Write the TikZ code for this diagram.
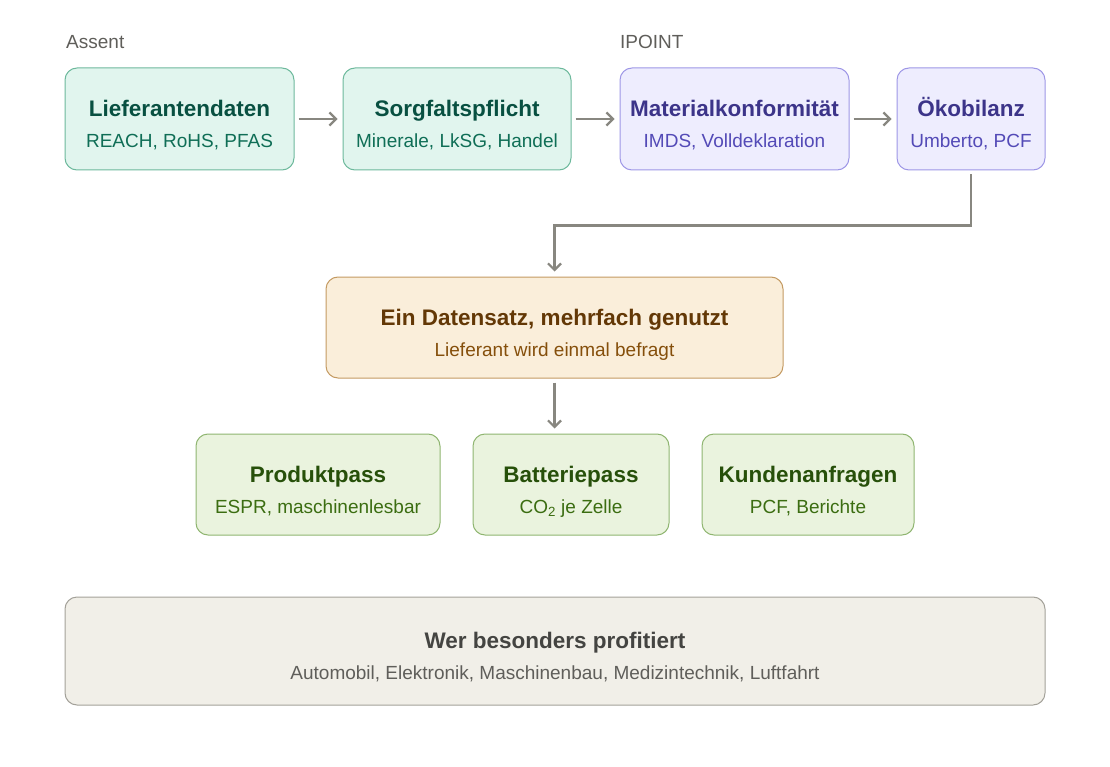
\documentclass[tikz,border=0pt]{standalone}
\usepackage{fontspec}
\setmainfont{Liberation Sans}
\usetikzlibrary{arrows.meta}

\definecolor{greenfill}{HTML}{E1F5EE}
\definecolor{greenline}{HTML}{6DB99C}
\definecolor{greentitle}{HTML}{085041}
\definecolor{greensub}{HTML}{0F6E56}
\definecolor{violetfill}{HTML}{EEEDFE}
\definecolor{violetline}{HTML}{9D96E6}
\definecolor{violettitle}{HTML}{3C3489}
\definecolor{violetsub}{HTML}{534AB7}
\definecolor{peachfill}{HTML}{FAEEDA}
\definecolor{peachline}{HTML}{C49A62}
\definecolor{peachtitle}{HTML}{633806}
\definecolor{peachsub}{HTML}{854F0B}
\definecolor{leaffill}{HTML}{EAF3DE}
\definecolor{leafline}{HTML}{8FB570}
\definecolor{leaftitle}{HTML}{27500A}
\definecolor{leafsub}{HTML}{3B6D11}
\definecolor{stonefill}{HTML}{F1EFE8}
\definecolor{stoneline}{HTML}{A3A199}
\definecolor{stonetitle}{HTML}{444441}
\definecolor{stonesub}{HTML}{5F5E5A}
\definecolor{arrowgray}{HTML}{888780}

% title line and sub line of a card
\newcommand{\cardtext}[3]{\rule{0pt}{31pt}{\color{#1}\fontsize{22.5}{31}\selectfont\bfseries #2}\\#3\rule[-5pt]{0pt}{5pt}}

\begin{document}
\begin{tikzpicture}[x=1pt,y=-1pt]
			\tikzstyle{card}=[rectangle,rounded corners=12pt,line width=1pt,align=center,inner sep=0pt,minimum height=102pt,font=\fontsize{19}{31}\selectfont]
			\tikzstyle{greencard}=[card,fill=greenfill,draw=greenline,text=greensub]
			\tikzstyle{violetcard}=[card,fill=violetfill,draw=violetline,text=violetsub]
			\tikzstyle{peachcard}=[card,fill=peachfill,draw=peachline,text=peachsub]
			\tikzstyle{leafcard}=[card,fill=leaffill,draw=leafline,text=leafsub]
			\tikzstyle{stonecard}=[card,fill=stonefill,draw=stoneline,text=stonesub]
			\tikzstyle{grouplabel}=[anchor=base west,inner sep=0pt,text=stonesub,font=\fontsize{19}{23}\selectfont]
			\tikzstyle{flow}=[draw=arrowgray,line width=2.2pt,-{Straight Barb[length=6.5pt,width=13pt,line width=2.2pt]},shorten <=4pt,shorten >=5pt]
				\useasboundingbox (0,0) rectangle (1110,767);
				% tools above the first row
				\node[grouplabel](assent) at (66,49){Assent};
				\node[grouplabel](ipoint) at (620,49){IPOINT};
				% first row
				\node[greencard,minimum width=229pt](lief) at (179.5,119){\cardtext{greentitle}{Lieferantendaten}{REACH, RoHS, PFAS}};
				\node[greencard,minimum width=228pt](sorg) at (457,119){\cardtext{greentitle}{Sorgfaltspflicht}{Minerale, LkSG, Handel}};
				\node[violetcard,minimum width=229pt](mat) at (734.5,119){\cardtext{violettitle}{Materialkonformität}{IMDS, Volldeklaration}};
				\node[violetcard,minimum width=148pt](oeko) at (971,119){\cardtext{violettitle}{Ökobilanz}{Umberto, PCF}};
				% shared data set
				\node[peachcard,minimum width=457pt,minimum height=101pt](data) at (554.5,327.5){\cardtext{peachtitle}{Ein Datensatz, mehrfach genutzt}{Lieferant wird einmal befragt}};
				% uses
				\node[leafcard,minimum width=244pt,minimum height=101pt](pass) at (318,484.5){\cardtext{leaftitle}{Produktpass}{ESPR, maschinenlesbar}};
				\node[leafcard,minimum width=196pt,minimum height=101pt](batt) at (571,484.5){\cardtext{leaftitle}{Batteriepass}{CO\textsubscript{2} je Zelle}};
				\node[leafcard,minimum width=212pt,minimum height=101pt](kunde) at (808,484.5){\cardtext{leaftitle}{Kundenanfragen}{PCF, Berichte}};
				% who benefits
				\node[stonecard,minimum width=980pt,minimum height=108pt](branchen) at (555,651){\cardtext{stonetitle}{Wer besonders profitiert}{Automobil, Elektronik, Maschinenbau, Medizintechnik, Luftfahrt}};
				\draw[flow] (lief) -- (sorg);
				\draw[flow] (sorg) -- (mat);
				\draw[flow] (mat) -- (oeko);
				\draw[flow] (oeko.south) -- ++(0,55) -| (data.north);
				\draw[flow] (data.south) -- (data.south |- batt.north);
			\end{tikzpicture}
\end{document}
